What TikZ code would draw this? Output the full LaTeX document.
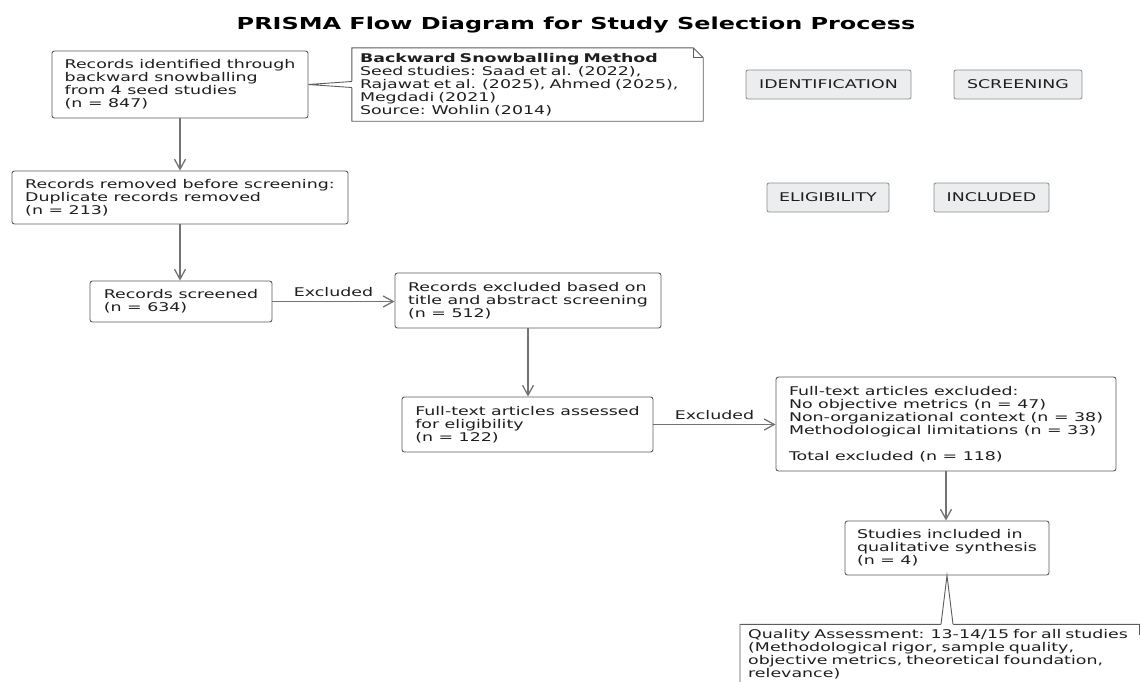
\documentclass[tikz,border=0pt]{standalone}
\usepackage{fontspec}
\setmainfont{DejaVu Sans}[FakeStretch=1.45]
\usepackage{tikz}
\usetikzlibrary{arrows.meta,calc}

\definecolor{boxline}{HTML}{5C5C5C}
\definecolor{flowline}{HTML}{737373}
\definecolor{phasefill}{HTML}{EBEDEF}
\definecolor{phaseline}{HTML}{8C8C8C}
\definecolor{inktext}{HTML}{1E1E1E}

\begin{document}
\begin{tikzpicture}[x=1pt,y=-1pt,
        font=\fontsize{12}{12.9}\selectfont, text=inktext,
        flowbox/.style={draw=boxline, line width=0.9pt, rounded corners=2.5pt, fill=white,
            align=left, inner xsep=12pt, inner ysep=0pt},
        notebox/.style={align=left, inner xsep=8pt, inner ysep=4pt, text width=#1},
        notewall/.style={draw=boxline, line width=0.9pt},
        phasebox/.style={draw=phaseline, fill=phasefill, rounded corners=2pt, line width=0.8pt,
            minimum height=29pt, inner xsep=0pt},
        flowarrow/.style={draw=flowline, line width=1.3pt, -{Straight Barb[length=10pt,width=11pt]}}]

            \useasboundingbox (0,0) rectangle (1140,681);
            \clip (0,0) rectangle (1140,681);

            \node[font=\fontsize{16.5}{20}\selectfont\bfseries, text=black, anchor=base] (title) at (576,29.5) {PRISMA Flow Diagram for Study Selection Process};

            \node[flowbox, minimum width=256pt, minimum height=67pt] (b1) at (180,84.5) {Records identified through\\backward snowballing\\from 4 seed studies\\(n = 847)};
            \node[flowbox, minimum width=336pt, minimum height=53pt] (b2) at (180,197.5) {Records removed before screening:\\Duplicate records removed\\(n = 213)};
            \node[flowbox, minimum width=182pt, minimum height=41pt] (b3) at (181,301.5) {Records screened\\(n = 634)};
            \node[flowbox, minimum width=266pt, minimum height=55pt] (b4) at (528,300.5) {Records excluded based on\\title and abstract screening\\(n = 512)};
            \node[flowbox, minimum width=251pt, minimum height=55pt] (b5) at (527.5,424.5) {Full-text articles assessed\\for eligibility\\(n = 122)};
            \node[flowbox, minimum width=340pt, minimum height=94pt] (b6) at (946,424) {Full-text articles excluded:\\No objective metrics (n = 47)\\Non-organizational context (n = 38)\\Methodological limitations (n = 33)\\[12.9pt]Total excluded (n = 118)};
            \node[flowbox, minimum width=204pt, minimum height=54pt] (b7) at (947,548) {Studies included in\\qualitative synthesis\\(n = 4)};

            \node[notebox=335pt, minimum height=73pt] (n1) at (527.5,84.5) {\textbf{Backward Snowballing Method}\\Seed studies: Saad et al. (2022),\\Rajawat et al. (2025), Ahmed (2025),\\Megdadi (2021)\\Source: Wohlin (2014)};
            \node[notebox=393pt, inner ysep=5pt, anchor=north west] (n2) at (740,624.3) {Quality Assessment: 13-14/15 for all studies\\(Methodological rigor, sample quality,\\objective metrics, theoretical foundation,\\relevance)};

            \draw[notewall] (n1.north west) -- ([xshift=-10pt]n1.north east) -- ([yshift=-10pt]n1.north east) -- (n1.south east) -- (n1.south west) -- cycle;
            \draw[notewall] ([xshift=-10pt]n1.north east) |- ([yshift=-10pt]n1.north east);
            \draw[notewall] (n2.north west) -- ([xshift=-10pt]n2.north east) -- ([yshift=-10pt]n2.north east) -- (n2.south east) -- (n2.south west) -- cycle;
            \draw[notewall] ([xshift=-10pt]n2.north east) |- ([yshift=-10pt]n2.north east);

            \fill[white] ($(n1.west)+(1.2,-3.3)$) -- (b1.east) -- ($(n1.west)+(1.2,3.3)$) -- cycle;
            \draw[notewall] ($(n1.west)+(0,-3)$) -- (b1.east) -- ($(n1.west)+(0,3)$);
            \fill[white] ($(b7.south |- n2.north)+(-6.3,1.2)$) -- (b7.south) -- ($(b7.south |- n2.north)+(6.3,1.2)$) -- cycle;
            \draw[notewall] ($(b7.south |- n2.north)+(-6,0)$) -- (b7.south) -- ($(b7.south |- n2.north)+(6,0)$);

            \node[phasebox, minimum width=165pt] (pid) at (828.5,84.5) {IDENTIFICATION};
            \node[phasebox, minimum width=128pt] (pscr) at (1018,84.5) {SCREENING};
            \node[phasebox, minimum width=122pt] (pelg) at (828,197.5) {ELIGIBILITY};
            \node[phasebox, minimum width=115pt] (pinc) at (991.5,197.5) {INCLUDED};

            \draw[flowarrow] (b1.south) -- (b1.south |- b2.north);
            \draw[flowarrow] (b2.south) -- (b2.south |- b3.north);
            \draw[flowarrow] (b3.east) -- (b3.east -| b4.west) node[midway, above=1pt] {Excluded};
            \draw[flowarrow] (b4.south) -- (b4.south |- b5.north);
            \draw[flowarrow] (b5.east) -- (b5.east -| b6.west) node[midway, above=1pt] {Excluded};
            \draw[flowarrow] (b6.south) -- (b6.south |- b7.north);
        \end{tikzpicture}
\end{document}
